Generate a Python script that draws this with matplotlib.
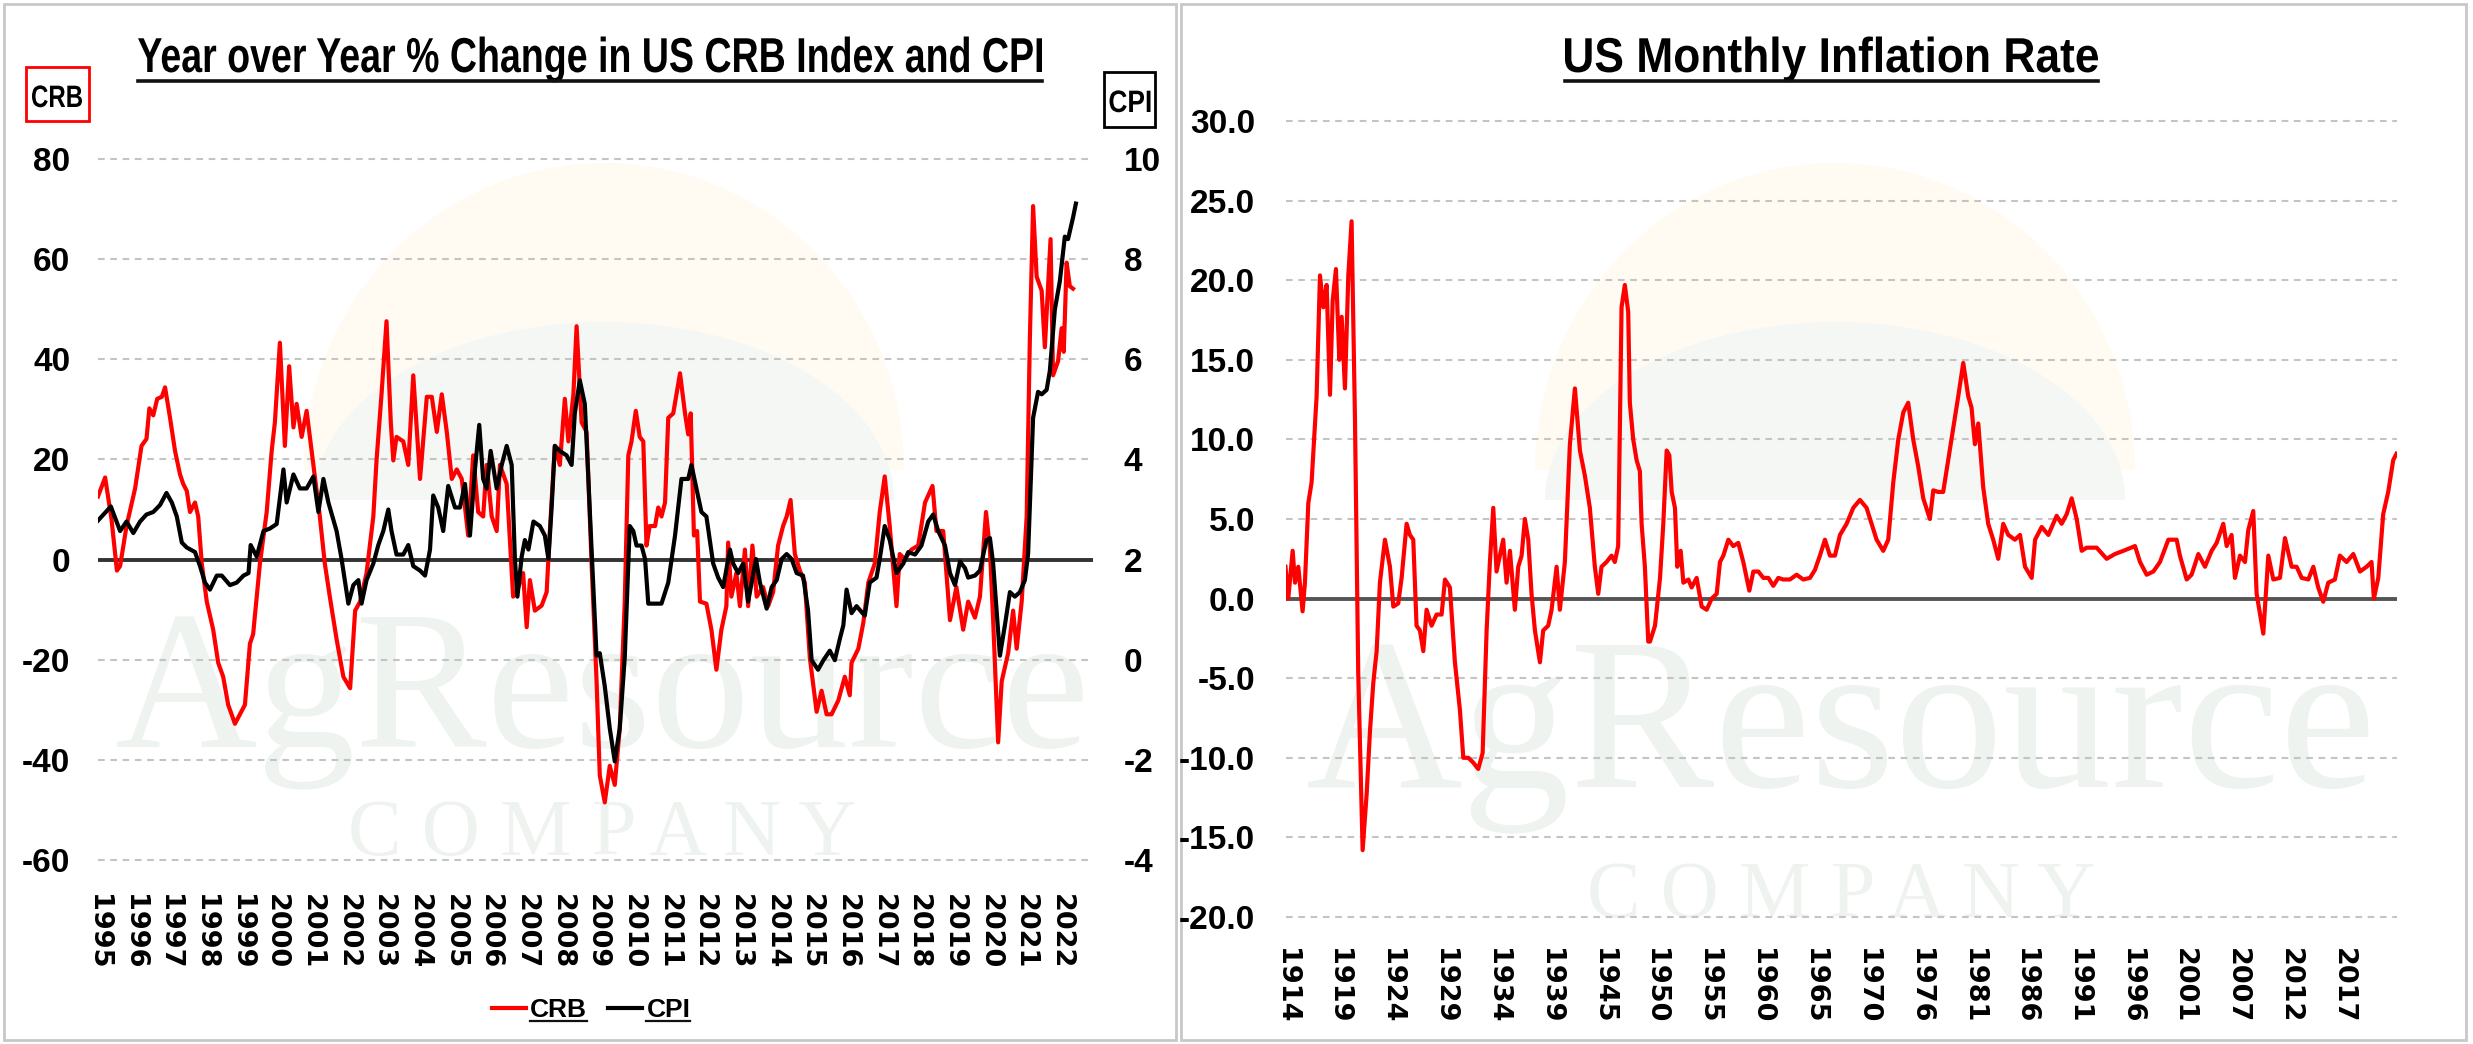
import numpy as np
import matplotlib
matplotlib.use('Agg')
import matplotlib.pyplot as plt
from matplotlib.patches import Rectangle, Polygon, PathPatch
from matplotlib.lines import Line2D
from matplotlib.textpath import TextPath
from matplotlib.font_manager import FontProperties
from matplotlib.transforms import Affine2D

SANS = ['Liberation Sans', 'DejaVu Sans']
WIDE = ['DejaVu Sans']
plt.rcParams['font.family'] = SANS
plt.rcParams['font.weight'] = 'bold'

# ---- left chart: year over year % change, CRB (left axis) and CPI (right axis)
crb_years = [1995.00, 1995.20, 1995.38, 1995.53, 1995.62, 1995.80, 1996.04, 1996.22, 1996.36, 1996.44,
             1996.55, 1996.66, 1996.79, 1996.88, 1997.02, 1997.16, 1997.30, 1997.39, 1997.49, 1997.58,
             1997.72, 1997.81, 1997.91, 1998.05, 1998.23, 1998.37, 1998.51, 1998.65, 1998.84, 1998.98,
             1999.12, 1999.26, 1999.35, 1999.54, 1999.73, 1999.87, 1999.96, 2000.10, 2000.24, 2000.36,
             2000.48, 2000.57, 2000.71, 2000.85, 2001.04, 2001.22, 2001.36, 2001.50, 2001.69, 2001.88,
             2002.07, 2002.21, 2002.35, 2002.53, 2002.72, 2002.81, 2002.95, 2003.09, 2003.21, 2003.28,
             2003.37, 2003.56, 2003.70, 2003.84, 2004.03, 2004.22, 2004.36, 2004.50, 2004.64, 2004.78,
             2004.92, 2005.06, 2005.20, 2005.38, 2005.52, 2005.66, 2005.80, 2005.90, 2006.04, 2006.18,
             2006.27, 2006.46, 2006.64, 2006.74, 2006.92, 2007.02, 2007.11, 2007.25, 2007.44, 2007.58,
             2007.67, 2007.81, 2007.95, 2008.09, 2008.19, 2008.33, 2008.42, 2008.56, 2008.70, 2008.84,
             2008.98, 2009.07, 2009.21, 2009.35, 2009.49, 2009.63, 2009.77, 2009.87, 2009.96, 2010.08,
             2010.19, 2010.29, 2010.38, 2010.47, 2010.62, 2010.71, 2010.80, 2010.90, 2010.99, 2011.13,
             2011.32, 2011.46, 2011.55, 2011.62, 2011.71, 2011.80, 2011.88, 2012.06, 2012.20, 2012.34,
             2012.48, 2012.62, 2012.67, 2012.76, 2012.90, 2013.00, 2013.14, 2013.23, 2013.35, 2013.47,
             2013.65, 2013.79, 2013.93, 2014.07, 2014.21, 2014.31, 2014.42, 2014.54, 2014.68, 2014.82,
             2014.96, 2015.15, 2015.29, 2015.43, 2015.57, 2015.76, 2015.94, 2016.08, 2016.13, 2016.32,
             2016.46, 2016.60, 2016.78, 2016.92, 2017.06, 2017.20, 2017.39, 2017.48, 2017.62, 2017.81,
             2018.00, 2018.19, 2018.40, 2018.51, 2018.70, 2018.89, 2019.07, 2019.26, 2019.40, 2019.59,
             2019.73, 2019.90, 2020.01, 2020.10, 2020.24, 2020.34, 2020.52, 2020.66, 2020.76, 2020.90,
             2021.04, 2021.13, 2021.22, 2021.32, 2021.46, 2021.55, 2021.71, 2021.78, 2021.92, 2022.02,
             2022.08, 2022.16, 2022.25, 2022.34]
crb_values = [12.6, 16.4, 8.0, -2.2, -1.3, 6.7, 14.2, 22.7, 24.1, 30.2,
              28.8, 32.1, 32.5, 34.4, 28.3, 21.7, 17.0, 15.1, 13.7, 9.5,
              11.4, 8.6, -0.8, -8.4, -14.0, -20.6, -23.4, -29.0, -32.8, -30.9,
              -29.0, -16.8, -14.9, -0.8, 9.5, 21.7, 27.4, 43.3, 22.7, 38.6,
              26.4, 31.1, 24.5, 29.7, 18.9, 8.6, -0.8, -7.4, -15.9, -23.4,
              -25.7, -10.2, -8.4, -2.7, 8.6, 19.8, 33.0, 47.6, 27.4, 19.8,
              24.5, 23.6, 18.9, 36.8, 16.1, 32.5, 32.5, 25.5, 33.0, 25.5,
              16.1, 18.0, 16.1, 4.8, 20.8, 9.5, 8.6, 18.9, 8.6, 5.7,
              18.9, 15.1, -7.4, -6.5, -2.7, -13.5, -4.1, -10.2, -9.2, -6.5,
              5.7, 22.7, 18.9, 32.1, 23.6, 33.0, 46.6, 27.4, 25.5, -0.8,
              -24.3, -43.1, -48.5, -41.2, -45.0, -33.7, -8.4, 20.8, 23.6, 29.7,
              24.5, 23.6, 2.8, 6.7, 6.7, 10.4, 8.6, 11.4, 28.3, 29.2,
              37.2, 29.2, 25.0, 29.2, 4.8, 5.7, -8.4, -8.8, -14.0, -22.0,
              -14.0, -9.3, 3.4, -7.4, -2.7, -9.3, 2.0, -9.3, 2.8, -7.4,
              -5.5, -9.3, -6.5, 2.8, 6.7, 8.6, 11.9, 1.1, -2.2, -4.6,
              -19.6, -30.4, -26.2, -30.9, -30.9, -28.1, -23.4, -27.1, -20.6, -17.8,
              -12.6, -4.6, -0.8, 9.5, 16.6, 6.7, -9.3, 1.1, 0.1, 2.0,
              2.8, 11.4, 14.7, 5.7, 5.7, -12.1, -5.5, -14.0, -8.4, -11.6,
              -7.4, 9.5, 2.0, -12.1, -36.5, -24.3, -18.7, -10.2, -17.8, -8.4,
              8.6, 44.3, 70.6, 56.5, 53.7, 42.4, 64.0, 36.8, 39.6, 46.2,
              41.5, 59.3, 54.6, 54.1]

cpi_years = [1995.00, 1995.36, 1995.62, 1995.80, 1995.99, 1996.18, 1996.36, 1996.55, 1996.74, 1996.92,
             1997.07, 1997.21, 1997.35, 1997.49, 1997.72, 1997.86, 1998.00, 1998.14, 1998.33, 1998.47,
             1998.70, 1998.89, 1999.08, 1999.22, 1999.28, 1999.45, 1999.64, 1999.82, 2000.01, 2000.20,
             2000.29, 2000.48, 2000.66, 2000.85, 2001.04, 2001.18, 2001.32, 2001.46, 2001.69, 2001.83,
             2002.02, 2002.16, 2002.30, 2002.39, 2002.53, 2002.72, 2002.86, 2003.00, 2003.14, 2003.23,
             2003.37, 2003.56, 2003.70, 2003.84, 2004.03, 2004.17, 2004.31, 2004.40, 2004.54, 2004.68,
             2004.82, 2005.01, 2005.15, 2005.29, 2005.43, 2005.57, 2005.69, 2005.80, 2005.90, 2006.01,
             2006.18, 2006.32, 2006.46, 2006.60, 2006.69, 2006.76, 2006.88, 2006.97, 2007.07, 2007.21,
             2007.39, 2007.53, 2007.63, 2007.72, 2007.81, 2007.95, 2008.14, 2008.28, 2008.37, 2008.51,
             2008.65, 2008.75, 2008.84, 2008.98, 2009.07, 2009.21, 2009.35, 2009.49, 2009.63, 2009.77,
             2009.91, 2010.01, 2010.10, 2010.24, 2010.34, 2010.43, 2010.62, 2010.80, 2010.99, 2011.18,
             2011.36, 2011.55, 2011.64, 2011.78, 2011.92, 2012.06, 2012.25, 2012.39, 2012.53, 2012.72,
             2012.81, 2012.95, 2013.09, 2013.23, 2013.45, 2013.56, 2013.75, 2013.89, 2014.03, 2014.17,
             2014.31, 2014.45, 2014.59, 2014.77, 2014.91, 2015.01, 2015.19, 2015.34, 2015.52, 2015.66,
             2015.80, 2015.90, 2015.99, 2016.13, 2016.27, 2016.50, 2016.64, 2016.83, 2016.92, 2017.06,
             2017.20, 2017.39, 2017.58, 2017.72, 2017.91, 2018.09, 2018.28, 2018.42, 2018.56, 2018.75,
             2018.89, 2019.03, 2019.17, 2019.31, 2019.40, 2019.59, 2019.73, 2019.91, 2020.01, 2020.10,
             2020.29, 2020.43, 2020.57, 2020.71, 2020.85, 2020.99, 2021.08, 2021.22, 2021.36, 2021.46,
             2021.60, 2021.69, 2021.83, 2021.97, 2022.11, 2022.20, 2022.34, 2022.42]
cpi_values = [2.78, 3.06, 2.57, 2.76, 2.53, 2.76, 2.90, 2.95, 3.09, 3.33,
              3.14, 2.86, 2.34, 2.24, 2.15, 1.87, 1.54, 1.40, 1.68, 1.68,
              1.49, 1.54, 1.68, 1.73, 2.29, 2.06, 2.57, 2.62, 2.71, 3.80,
              3.14, 3.70, 3.42, 3.42, 3.66, 2.95, 3.61, 3.14, 2.57, 2.01,
              1.12, 1.49, 1.59, 1.12, 1.59, 1.92, 2.29, 2.57, 3.00, 2.57,
              2.10, 2.10, 2.29, 1.87, 1.78, 1.68, 2.20, 3.28, 3.04, 2.57,
              3.47, 3.04, 3.04, 3.51, 2.48, 3.80, 4.69, 3.61, 3.42, 4.17,
              3.42, 3.89, 4.27, 3.89, 2.01, 1.26, 2.06, 2.39, 2.20, 2.76,
              2.67, 2.48, 2.01, 3.04, 4.27, 4.17, 4.08, 3.89, 4.92, 5.58,
              5.11, 3.61, 2.20, 0.08, 0.13, -0.53, -1.37, -2.03, -1.37, 0.04,
              2.67, 2.57, 2.28, 2.28, 2.01, 1.12, 1.12, 1.12, 1.54, 2.48,
              3.61, 3.61, 3.89, 3.42, 2.95, 2.86, 1.92, 1.64, 1.45, 2.20,
              1.92, 1.73, 1.92, 1.16, 2.01, 1.54, 1.02, 1.45, 1.59, 2.01,
              2.11, 2.01, 1.73, 1.68, 0.98, -0.01, -0.20, -0.01, 0.18, -0.01,
              0.41, 0.69, 1.40, 0.93, 1.07, 0.88, 1.54, 1.64, 2.01, 2.67,
              2.39, 1.73, 1.92, 2.15, 2.10, 2.28, 2.76, 2.90, 2.57, 2.28,
              1.73, 1.49, 1.96, 1.83, 1.64, 1.68, 1.78, 2.39, 2.43, 1.92,
              0.08, 0.69, 1.35, 1.26, 1.35, 1.59, 2.11, 4.83, 5.35, 5.30,
              5.39, 5.77, 6.99, 7.56, 8.45, 8.40, 8.83, 9.11]

left_years = list(range(1995, 2023))
crb_ticks = [-60, -40, -20, 0, 20, 40, 60, 80]
cpi_ticks = [-4, -2, 0, 2, 4, 6, 8, 10]

# ---- right chart: US monthly inflation rate
infl_years = [1914.00, 1914.27, 1914.70, 1914.93, 1915.25, 1915.67, 1915.90, 1916.23, 1916.55, 1917.04,
              1917.37, 1917.70, 1918.02, 1918.35, 1918.61, 1918.93, 1919.26, 1919.49, 1919.81, 1920.14,
              1920.46, 1920.79, 1921.11, 1921.54, 1921.93, 1922.26, 1922.58, 1922.91, 1923.23, 1923.72,
              1924.21, 1924.54, 1925.02, 1925.35, 1925.84, 1926.16, 1926.49, 1926.81, 1927.14, 1927.47,
              1927.79, 1928.28, 1928.77, 1929.26, 1929.59, 1930.07, 1930.56, 1931.05, 1931.38, 1931.87,
              1932.35, 1932.84, 1933.27, 1933.66, 1933.98, 1934.31, 1934.63, 1934.96, 1935.28, 1935.61,
              1935.94, 1936.42, 1936.75, 1937.08, 1937.40, 1937.73, 1938.05, 1938.38, 1938.87, 1939.19,
              1939.68, 1940.01, 1940.50, 1940.82, 1941.31, 1941.80, 1942.29, 1942.78, 1943.27, 1943.75,
              1944.24, 1944.57, 1944.89, 1945.38, 1945.87, 1946.19, 1946.52, 1946.85, 1947.17, 1947.50,
              1947.66, 1947.99, 1948.32, 1948.64, 1948.81, 1949.13, 1949.46, 1949.63, 1950.12, 1950.61,
              1950.93, 1951.26, 1951.52, 1951.75, 1952.07, 1952.30, 1952.63, 1952.89, 1953.38, 1953.70,
              1954.19, 1954.68, 1955.17, 1955.66, 1956.15, 1956.47, 1956.80, 1957.29, 1957.77, 1958.26,
              1958.75, 1959.34, 1959.73, 1960.22, 1960.71, 1961.20, 1961.68, 1962.17, 1962.66, 1963.31,
              1963.96, 1964.61, 1965.27, 1965.75, 1966.24, 1966.73, 1967.22, 1967.71, 1968.20, 1968.85,
              1969.50, 1970.15, 1970.80, 1971.29, 1971.78, 1972.43, 1972.92, 1973.41, 1973.90, 1974.39,
              1974.87, 1975.36, 1975.85, 1976.34, 1976.99, 1977.32, 1977.80, 1978.29, 1978.78, 1979.27,
              1979.76, 1980.25, 1980.74, 1981.06, 1981.39, 1981.72, 1982.20, 1982.69, 1983.18, 1983.67,
              1984.16, 1984.65, 1985.30, 1985.80, 1986.29, 1986.94, 1987.27, 1987.92, 1988.57, 1989.38,
              1989.87, 1990.36, 1990.85, 1991.34, 1991.83, 1992.31, 1993.29, 1994.27, 1995.08, 1995.90,
              1997.04, 1997.53, 1998.18, 1998.83, 1999.48, 2000.30, 2001.11, 2001.43, 2002.09, 2002.57,
              2003.23, 2003.88, 2004.53, 2005.02, 2005.67, 2006.00, 2006.48, 2006.81, 2007.30, 2007.79,
              2008.11, 2008.60, 2008.93, 2009.58, 2010.07, 2010.56, 2011.21, 2011.70, 2012.35, 2012.84,
              2013.33, 2013.98, 2014.47, 2014.95, 2015.44, 2015.93, 2016.58, 2017.07, 2017.72, 2018.38,
              2019.03, 2019.68, 2020.16, 2020.39, 2020.82, 2021.30, 2021.79, 2022.28, 2022.60]
infl_values = [2.0, 0.0, 3.0, 1.0, 2.0, -0.8, 1.0, 6.0, 7.3, 12.7,
               20.3, 18.3, 19.7, 12.8, 18.7, 20.7, 15.0, 17.7, 13.2, 20.3,
               23.7, 11.3, -4.7, -15.8, -12.3, -8.3, -5.3, -3.3, 1.0, 3.7,
               2.0, -0.5, -0.3, 1.3, 4.7, 4.0, 3.7, -1.7, -2.0, -3.3,
               -0.7, -1.7, -1.0, -1.0, 1.2, 0.7, -4.0, -7.0, -10.0, -10.0,
               -10.3, -10.7, -9.7, -2.0, 2.3, 5.7, 1.7, 2.7, 3.7, 1.0,
               3.0, -0.7, 2.0, 2.7, 5.0, 3.7, 0.3, -2.0, -4.0, -2.0,
               -1.7, -0.7, 2.0, -0.7, 2.3, 9.7, 13.2, 9.3, 7.7, 5.7,
               2.0, 0.3, 2.0, 2.3, 2.7, 2.3, 3.3, 18.3, 19.7, 18.0,
               12.3, 10.0, 8.7, 8.0, 4.7, 2.0, -2.7, -2.7, -1.7, 1.3,
               4.7, 9.3, 9.0, 6.7, 5.7, 2.0, 3.0, 1.0, 1.2, 0.7,
               1.3, -0.5, -0.7, 0.0, 0.3, 2.3, 2.7, 3.7, 3.3, 3.5,
               2.3, 0.5, 1.7, 1.7, 1.3, 1.3, 0.8, 1.3, 1.2, 1.2,
               1.5, 1.2, 1.3, 1.8, 2.7, 3.7, 2.7, 2.7, 4.0, 4.7,
               5.7, 6.2, 5.7, 4.7, 3.7, 3.0, 3.7, 7.3, 10.0, 11.7,
               12.3, 10.0, 8.3, 6.3, 5.0, 6.8, 6.7, 6.7, 8.7, 10.7,
               12.7, 14.8, 12.7, 12.0, 9.7, 11.0, 7.0, 4.7, 3.7, 2.5,
               4.7, 4.0, 3.7, 4.0, 2.0, 1.3, 3.7, 4.5, 4.0, 5.2,
               4.7, 5.3, 6.3, 5.0, 3.0, 3.2, 3.2, 2.5, 2.8, 3.0,
               3.3, 2.3, 1.5, 1.7, 2.3, 3.7, 3.7, 2.7, 1.2, 1.5,
               2.8, 2.0, 3.0, 3.5, 4.7, 3.3, 4.0, 1.3, 2.7, 2.3,
               4.3, 5.5, 0.3, -2.2, 2.7, 1.2, 1.3, 3.8, 2.0, 2.0,
               1.3, 1.2, 2.0, 0.7, -0.2, 1.0, 1.2, 2.7, 2.3, 2.8,
               1.7, 2.0, 2.3, 0.0, 1.3, 5.3, 6.7, 8.7, 9.1]

infl_tick_labels = ['1914', '1919', '1924', '1929', '1934', '1939', '1945', '1950', '1955', '1960', '1965',
                    '1970', '1976', '1981', '1986', '1991', '1996', '2001', '2007', '2012', '2017']
infl_ticks = [-20, -15, -10, -5, 0, 5, 10, 15, 20, 25, 30]

# ---- figure, laid out in pixels of the 2473x1044 picture (y down from top)
W, H = 2473, 1044
fig = plt.figure(figsize=(W / 100, H / 100), dpi=100)
BOLD = FontProperties(family=SANS, weight='bold')


def fx(x):
    return x / W


def fy(y):
    return 1 - y / H


def box(x0, y0, x1, y1):
    return [fx(x0), fy(y1), (x1 - x0) / W, (y1 - y0) / H]


def squeezed(s, cx, base, size_px, width, color='black'):
    # narrow bold text: a text path squeezed to the measured width
    tp = TextPath((0, 0), s, size=size_px, prop=BOLD)
    bb = tp.get_extents()
    tr = (Affine2D().translate(-bb.x0, 0).scale(width / bb.width, 1)
          .translate(cx - width / 2, H - base).scale(1 / W, 1 / H) + fig.transFigure)
    fig.add_artist(PathPatch(tp, transform=tr, fc=color, ec='none', lw=0))
    return cx - width / 2, cx + width / 2


# panel frames
for x0, x1 in [(4, 1176), (1181, 2466)]:
    fig.add_artist(Rectangle((fx(x0), fy(1040)), (x1 - x0) / W, 1036 / H, transform=fig.transFigure,
                             fill=False, ec='#c8c8c8', lw=2, zorder=-5))


# faint AgResource watermark behind each chart
def arch(cx, cy, rx, ry, color):
    t = np.linspace(0, np.pi, 120)
    pts = np.column_stack([fx(cx + rx * np.cos(t)), fy(cy - ry * np.sin(t))])
    fig.add_artist(Polygon(pts, closed=True, transform=fig.transFigure, fc=color, ec='none', zorder=-4))


for cx, word_x, word_y, word_size, comp_y in [(604, 602, 748, 142, 855), (1835, 1841, 787, 156, 917)]:
    arch(cx, 470, 300, 307, '#fffbf2')
    arch(cx, 500, 290, 178, '#f4f7f3')
    fig.text(fx(word_x), fy(word_y), 'AgResource', family=['Liberation Serif', 'DejaVu Serif'],
             weight='normal', fontsize=word_size, color='#eef3ef', ha='center', va='baseline', zorder=-3)
    fig.text(fx(word_x), fy(comp_y), 'C O M P A N Y', family=['Liberation Serif', 'DejaVu Serif'],
             weight='normal', fontsize=58, color='#eef3ef', ha='center', va='baseline', zorder=-3)

grid_kw = dict(color='#c4c4c4', lw=1.5, linestyle=(0, (3.2, 2.7)))

# left chart: gridlines at 80 (y=159px) and -60 (y=860px)
k1 = (860 - 159) / 140
ax1 = fig.add_axes(box(98, 159 - k1, 1093, 860 + k1))
ax1.set_ylim(-61, 81)
ax1.set_xlim(1995, 2022.9)
ax1.patch.set_visible(False)
for y in crb_ticks:
    if y != 0:
        ax1.axhline(y, zorder=0, **grid_kw)
ax1.axhline(0, color='#333333', lw=2.8, zorder=1)
crb_line, = ax1.plot(crb_years, crb_values, color='#ff0000', lw=3, zorder=2, label='CRB')
ax1.set_yticks(crb_ticks)
ax1.set_yticklabels([str(v) for v in crb_ticks])
ax1.tick_params(axis='y', length=0, pad=20, labelsize=24)
ax1.set_xticks(left_years)
ax1.set_xticklabels([str(v) for v in left_years], rotation=270, family=WIDE, fontsize=19.5)
ax1.tick_params(axis='x', length=0, pad=21)

ax2 = ax1.twinx()
ax2.set_ylim(-4.1, 10.1)
cpi_line, = ax2.plot(cpi_years, cpi_values, color='#000000', lw=3, zorder=3, label='CPI')
ax2.set_yticks(cpi_ticks)
ax2.set_yticklabels([str(v) for v in cpi_ticks])
ax2.tick_params(axis='y', length=0, pad=22, labelsize=24)
for a in (ax1, ax2):
    for s in a.spines.values():
        s.set_visible(False)

# axis captions in boxes
fig.add_artist(Rectangle((fx(26), fy(121)), 63 / W, 54 / H, transform=fig.transFigure,
                         fc='white', ec='#ff0000', lw=2))
squeezed('CRB', 57, 107, 31, 50)
fig.add_artist(Rectangle((fx(1104), fy(127)), 51 / W, 55 / H, transform=fig.transFigure,
                         fc='white', ec='#000000', lw=2))
squeezed('CPI', 1130, 112, 31, 41)

leg = ax1.legend(handles=[crb_line, cpi_line], loc='center', bbox_to_anchor=(fx(591), fy(1010)),
                 bbox_transform=fig.transFigure, ncol=2, frameon=False, fontsize=19,
                 handlelength=1.3, handletextpad=0.15, columnspacing=0.8)

# right chart: gridlines at 30 (y=121px) and -20 (y=917px)
k3 = (917 - 121) / 50
ax3 = fig.add_axes(box(1285.5, 121 - 0.3 * k3, 2397, 917 + 0.3 * k3))
ax3.set_ylim(-20.3, 30.3)
ax3.set_xlim(1914, 2022.65)
ax3.patch.set_visible(False)
for y in infl_ticks:
    if y != 0:
        ax3.axhline(y, zorder=0, **grid_kw)
ax3.axhline(0, color='#555555', lw=2.8, zorder=1)
ax3.plot(infl_years, infl_values, color='#ff0000', lw=3, zorder=2)
ax3.set_yticks(infl_ticks)
ax3.set_yticklabels(['{:.1f}'.format(v) for v in infl_ticks])
ax3.tick_params(axis='y', length=0, pad=22, labelsize=24)
# Excel category axis: one label every 62 months from Jan 1914
ax3.set_xticks([1914 + k * 62 / 12 for k in range(len(infl_tick_labels))])
ax3.set_xticklabels(infl_tick_labels, rotation=270, family=WIDE, fontsize=19.5)
ax3.tick_params(axis='x', length=0, pad=19)
for s in ax3.spines.values():
    s.set_visible(False)

# titles, squeezed to the measured widths, with underlines
for title, cx, width in [('Year over Year % Change in US CRB Index and CPI', 590, 904),
                         ('US Monthly Inflation Rate', 1831.5, 533)]:
    x0, x1 = squeezed(title, cx, 72, 49, width)
    fig.add_artist(Line2D([fx(x0), fx(x1)], [fy(81), fy(81)], transform=fig.transFigure,
                          color='#111111', lw=2.6))

# underline the legend entries
fig.canvas.draw()
r = fig.canvas.get_renderer()
for t in leg.get_texts():
    bb = t.get_window_extent(r)
    fig.add_artist(Line2D([bb.x0 / W, bb.x1 / W], [(bb.y0 + 1) / H] * 2, transform=fig.transFigure,
                          color='#111111', lw=1.6))

fig.savefig('out.png', dpi=100)
